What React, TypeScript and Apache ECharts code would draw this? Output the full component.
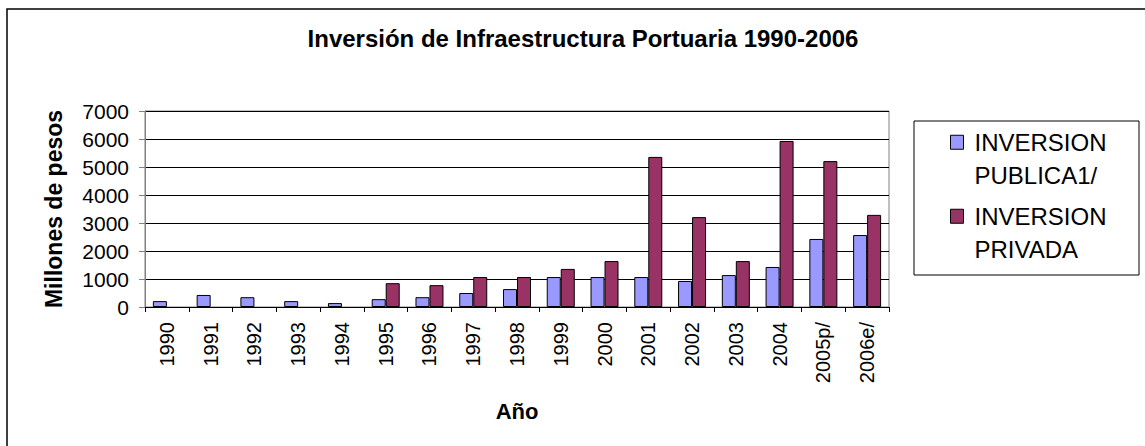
import React, { useEffect, useRef } from "react";
import * as echarts from "echarts";

const categories = [
  "1990", "1991", "1992", "1993", "1994", "1995", "1996", "1997", "1998",
  "1999", "2000", "2001", "2002", "2003", "2004", "2005p/", "2006e/",
];
const inversionPublica = [210, 430, 350, 210, 140, 280, 350, 500, 640, 1070, 1070, 1070, 930, 1140, 1430, 2430, 2570];
const inversionPrivada = [null, null, null, null, null, 850, 780, 1070, 1070, 1360, 1640, 5360, 3210, 1640, 5930, 5210, 3290];
const seriesNames = ["INVERSION PUBLICA1/", "INVERSION PRIVADA"];
const yTicks = { min: 0, max: 7000, interval: 1000 };

const FONT = "'Liberation Sans', Arial, sans-serif";

export default function App() {
  const ref = useRef<HTMLDivElement>(null);
  useEffect(() => {
    if (!ref.current) return;
    const chart = echarts.init(ref.current, null, { renderer: "svg" });
    chart.setOption({
      animation: false,
      textStyle: { fontFamily: FONT, color: "#000" },
      title: {
        text: "Inversión de Infraestructura Portuaria 1990-2006",
        left: 583,
        top: 26,
        padding: 0,
        textAlign: "center",
        textStyle: { fontFamily: FONT, fontSize: 24, fontWeight: "bold", color: "#000" },
      },
      grid: {
        left: 145,
        right: 256,
        top: 111,
        bottom: 139,
        show: true,
        borderColor: "#808080",
        borderWidth: 1,
        backgroundColor: "transparent",
      },
      legend: {
        orient: "vertical",
        left: 950,
        top: 92,
        padding: 0,
        itemGap: -26.5,
        itemWidth: 13,
        itemHeight: 14,
        icon: "rect",
        itemStyle: { borderColor: "#000", borderWidth: 1 },
        formatter: (name: string) => "\n" + name.replace(" ", "\n"),
        textStyle: {
          fontFamily: FONT,
          fontSize: 24,
          lineHeight: 33.5,
          color: "#000",
          padding: [0, 0, 0, 6],
        },
      },
      graphic: [
        {
          type: "rect",
          shape: { x: 7, y: 9, width: 1200, height: 500 },
          style: { fill: "none", stroke: "#000", lineWidth: 1.5 },
          silent: true,
        },
        {
          type: "rect",
          shape: { x: 914, y: 121, width: 225, height: 154 },
          style: { fill: "none", stroke: "#000", lineWidth: 1 },
          silent: true,
        },
      ],
      xAxis: {
        type: "category",
        data: categories,
        name: "Año",
        nameLocation: "middle",
        nameGap: 93,
        nameTextStyle: { fontFamily: FONT, fontSize: 22, fontWeight: "bold", color: "#000" },
        axisLine: { show: true, lineStyle: { color: "#000", width: 1 } },
        axisTick: { show: true, length: 5, lineStyle: { color: "#000" } },
        axisLabel: {
          rotate: 90,
          fontSize: 20,
          margin: 15,
          color: "#000",
          fontFamily: FONT,
          interval: 0,
        },
      },
      yAxis: {
        type: "value",
        min: yTicks.min,
        max: yTicks.max,
        interval: yTicks.interval,
        name: "Millones de pesos",
        nameLocation: "middle",
        nameRotate: 90,
        nameGap: 80,
        nameTextStyle: { fontFamily: FONT, fontSize: 23, fontWeight: "bold", color: "#000" },
        axisLine: { show: true, lineStyle: { color: "#808080", width: 1 } },
        axisTick: { show: true, length: 6, lineStyle: { color: "#808080" } },
        axisLabel: {
          fontSize: 21,
          margin: 16,
          color: "#000",
          fontFamily: FONT,
          formatter: (v: number) => String(v),
        },
        splitLine: { show: true, lineStyle: { color: "#000", width: 1 } },
      },
      series: [
        {
          name: seriesNames[0],
          type: "bar",
          data: inversionPublica,
          barWidth: 14,
          barGap: "0%",
          itemStyle: { color: "#9999FF", borderColor: "#000", borderWidth: 1 },
        },
        {
          name: seriesNames[1],
          type: "bar",
          data: inversionPrivada,
          barWidth: 14,
          barGap: "0%",
          itemStyle: { color: "#993366", borderColor: "#000", borderWidth: 1 },
        },
      ],
    });
    return () => chart.dispose();
  }, []);
  return (
    <div
      ref={ref}
      style={{ position: "fixed", left: 0, top: 0, width: 1145, height: 446, background: "#fff" }}
    />
  );
}
